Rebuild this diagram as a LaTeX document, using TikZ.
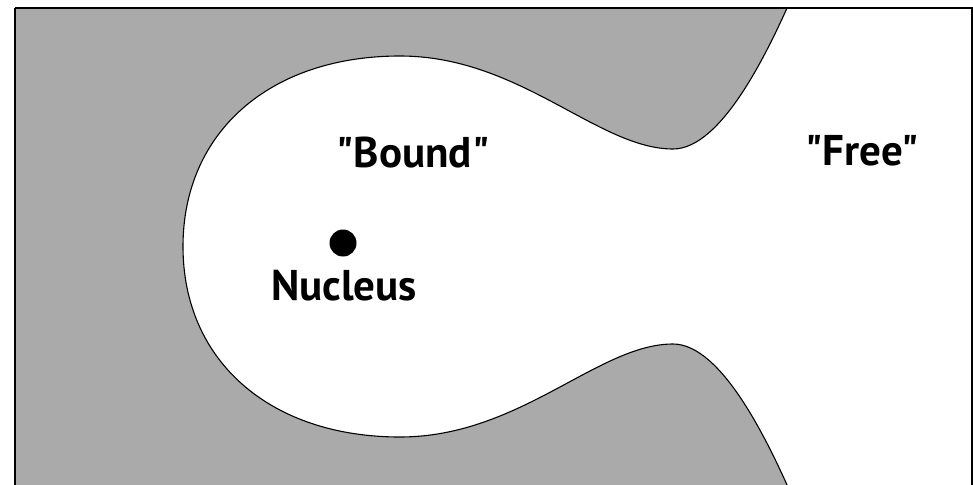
\documentclass[tikz,border=0pt]{standalone}
\usepackage{fontspec}
\setmainfont{PT Sans}[Ligatures=TeXOff]
\definecolor{bggray}{HTML}{AAAAAA}
\begin{document}
\begin{tikzpicture}[x=1pt,y=-1pt,
  lbl/.style={font=\bfseries\fontsize{43}{43}\selectfont, anchor=base, inner sep=0pt},
  nucdot/.style={circle, fill=black, minimum size=27pt, inner sep=0pt},
  outline/.style={draw=black, line width=1.1pt},
  frame/.style={draw=black, line width=2pt}]
\useasboundingbox (0,0) rectangle (973,484);
\begin{scope}
  \clip (15,8) rectangle (972,500);
  \fill[bggray] (15,8) rectangle (972,500);
  \fill[white] (795,-10) .. controls (769,50) and (722,149) .. (673,149)
     .. controls (598,149) and (520,56) .. (400,56)
     .. controls (270,56) and (183,132) .. (183,246.5)
     .. controls (183,361) and (270,437) .. (400,437)
     .. controls (520,437) and (598,344) .. (673,344)
     .. controls (722,344) and (769,443) .. (795,503)
     -- (990,503) -- (990,-10) -- cycle;
  \draw[outline] (795,-10) .. controls (769,50) and (722,149) .. (673,149)
     .. controls (598,149) and (520,56) .. (400,56)
     .. controls (270,56) and (183,132) .. (183,246.5)
     .. controls (183,361) and (270,437) .. (400,437)
     .. controls (520,437) and (598,344) .. (673,344)
     .. controls (722,344) and (769,443) .. (795,503);
\end{scope}
\draw[frame] (15,8) -- (972,8) -- (972,500);
\draw[frame] (15,500) -- (15,8);
\node[nucdot] (dot) at (343,243) {};
\node[lbl] (nucleus) at (344,300) {Nucleus};
\node[lbl] (bound) at (413,167) {"Bound"};
\node[lbl] (free) at (862,165) {"Free"};
\end{tikzpicture}
\end{document}
